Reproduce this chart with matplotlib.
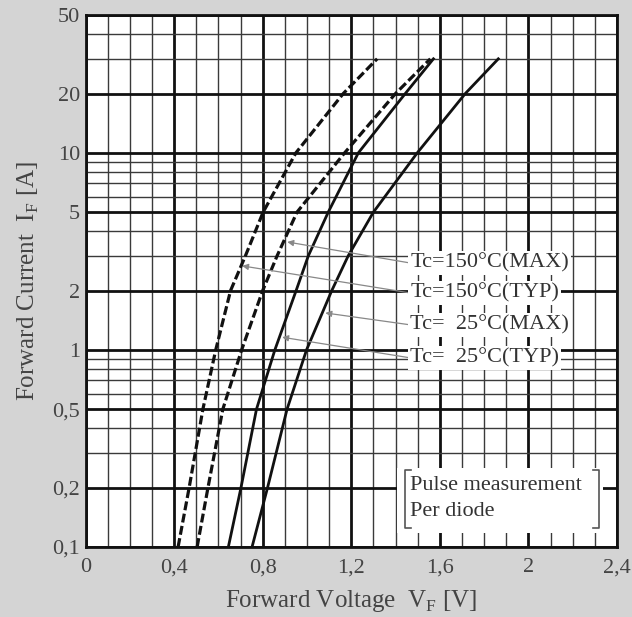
import numpy as np
import matplotlib
matplotlib.use("Agg")
import matplotlib.pyplot as plt
from matplotlib.ticker import MultipleLocator, NullFormatter
from matplotlib.patches import Rectangle

current = [0.1, 0.2, 0.5, 1, 2, 3, 5, 10, 20, 30]

# Forward voltage (V) of each curve at those currents
vf_150_typ = [0.418, 0.468, 0.530, 0.588, 0.655, 0.722, 0.802, 0.950, 1.164, 1.317]
vf_150_max = [0.504, 0.553, 0.620, 0.705, 0.800, 0.865, 0.955, 1.170, 1.400, 1.557]
vf_25_typ = [0.645, 0.702, 0.772, 0.855, 0.951, 1.006, 1.096, 1.232, 1.444, 1.571]
vf_25_max = [0.752, 0.822, 0.910, 0.998, 1.112, 1.186, 1.300, 1.498, 1.715, 1.864]

x_ticks = [0, 0.4, 0.8, 1.2, 1.6, 2.0, 2.4]
x_labels = ["0", "0,4", "0,8", "1,2", "1,6", "2", "2,4"]
y_ticks = [0.1, 0.2, 0.5, 1, 2, 5, 10, 20, 50]
y_labels = ["0,1", "0,2", "0,5", "1", "2", "5", "10", "20", "50"]
y_minor = [0.3, 0.4, 0.6, 0.7, 0.8, 0.9, 3, 4, 6, 7, 8, 9, 30, 40]

# legend labels: text, label anchor (V, I) and arrow tip (V, I)
labels = ["Tc=150°C(MAX)", "Tc=150°C(TYP)", "Tc=  25°C(MAX)", "Tc=  25°C(TYP)"]
label_v = [1.467, 1.467, 1.467, 1.467]
label_i = [2.76, 1.945, 1.34, 0.911]
tip_v = [0.911, 0.707, 1.083, 0.888]
tip_i = [3.53, 2.67, 1.54, 1.16]

plt.rcParams["font.family"] = ["Liberation Serif", "DejaVu Serif"]
plt.rcParams["mathtext.fontset"] = "custom"
plt.rcParams["mathtext.rm"] = "Liberation Serif"

txt = "#444444"
fig = plt.figure(figsize=(6.32, 6.17), dpi=100, facecolor="#d4d4d4")
ax = fig.add_axes([0.1353, 0.1135, 0.841, 0.862])
ax.set_facecolor("white")

ax.set_yscale("log")
ax.set_xlim(0, 2.4)
ax.set_ylim(0.1, 50)

ax.set_xticks(x_ticks, x_labels)
ax.xaxis.set_minor_locator(MultipleLocator(0.1))
ax.set_yticks(y_ticks, y_labels)
ax.set_yticks(y_minor, minor=True)
ax.yaxis.set_minor_formatter(NullFormatter())
ax.tick_params(which="both", length=0, labelsize=16, labelcolor=txt)
ax.tick_params(axis="x", pad=8)
ax.tick_params(axis="y", pad=4)

ax.set_axisbelow(True)
ax.grid(which="major", color="#111111", lw=2.0)
ax.grid(which="minor", color="#3a3a3a", lw=1.0)
for s in ax.spines.values():
    s.set_linewidth(2.0)
    s.set_color("#111111")

# curves
dash = (0, (2.8, 1.1))
ax.plot(vf_150_typ, current, color="#111111", lw=2.3, linestyle=dash)
ax.plot(vf_150_max, current, color="#111111", lw=2.3, linestyle=dash)
ax.plot(vf_25_typ, current, color="#111111", lw=2.0)
ax.plot(vf_25_max, current, color="#111111", lw=2.0)

# labels with arrows
for t, lv, li, tv, ti in zip(labels, label_v, label_i, tip_v, tip_i):
    ax.annotate(t, xy=(tv, ti), xytext=(lv, li), ha="left", va="center",
                fontsize=16, color="#333333",
                bbox=dict(facecolor="white", edgecolor="none", pad=1.5),
                arrowprops=dict(arrowstyle="-|>", color="#888888", lw=0.9,
                                mutation_scale=9, relpos=(0, 0.5),
                                shrinkA=0, shrinkB=0))

# measurement note box
ax.add_patch(Rectangle((0.586, 0.026), 0.388, 0.122, transform=ax.transAxes,
                       facecolor="white", edgecolor="none", zorder=2))
for bx, d in [(0.601, 1), (0.966, -1)]:
    ax.plot([bx + 0.012 * d, bx, bx, bx + 0.012 * d], [0.145, 0.145, 0.036, 0.036],
            transform=ax.transAxes, color="#555555", lw=1.2, zorder=3)
ax.text(0.6105, 0.1165, "Pulse measurement", transform=ax.transAxes,
        ha="left", va="center", fontsize=16, color="#333333", zorder=4)
ax.text(0.6105, 0.0658, "Per diode", transform=ax.transAxes,
        ha="left", va="center", fontsize=16, color="#333333", zorder=4)

ax.set_xlabel(r"Forward Voltage  V$_\mathrm{F}$ [V]", fontsize=18, color=txt, labelpad=8)
ax.set_ylabel(r"Forward Current  I$_\mathrm{F}$ [A]", fontsize=18, color=txt, labelpad=8)

fig.savefig("out.png", dpi=100, facecolor=fig.get_facecolor())
